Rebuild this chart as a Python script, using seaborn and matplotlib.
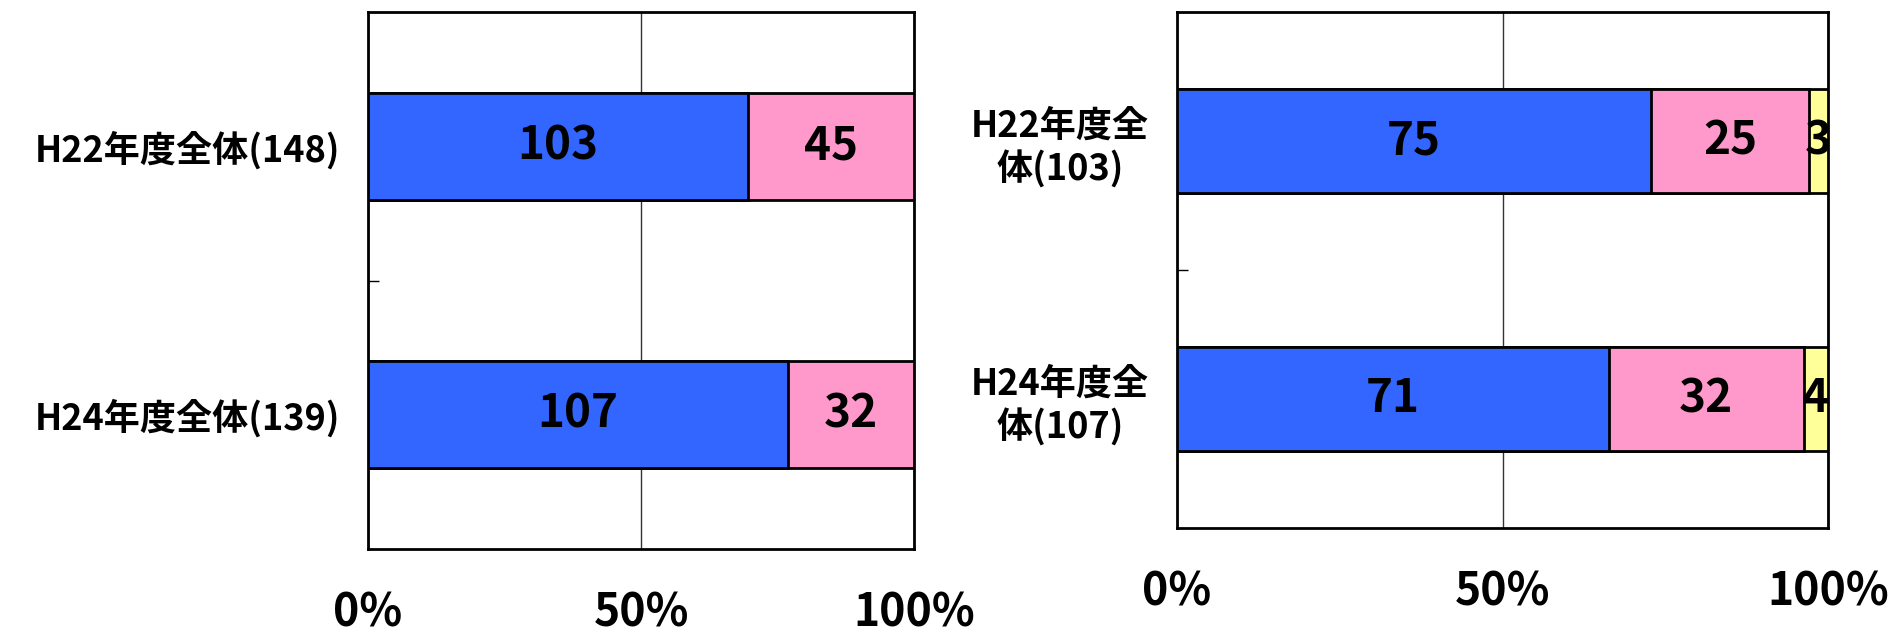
import numpy as np
import pandas as pd
import seaborn as sns
import matplotlib.pyplot as plt

sns.set_style('white')
plt.rcParams['font.family'] = ['Noto Sans CJK JP', 'DejaVu Sans']
plt.rcParams['font.weight'] = 'bold'
plt.rcParams['text.color'] = 'black'
plt.rcParams['xtick.color'] = 'black'
plt.rcParams['ytick.color'] = 'black'

# dados do grafico da esquerda
cat_esq = ['H22年度全体(148)', 'H24年度全体(139)']
azul_esq = [103, 107]
rosa_esq = [45, 32]

# dados do grafico da direita
cat_dir = ['H22年度全\n体(103)', 'H24年度全\n体(107)']
azul_dir = [75, 71]
rosa_dir = [25, 32]
amarelo_dir = [3, 4]

cores = ['#3366FF', '#FF99CC', '#FFFF99']
xticks = [0, 50, 100]
xlabels = ['0%', '50%', '100%']


def grafico(ax, cats, series, pad):
    df = pd.DataFrame({'cat': cats})
    total = np.sum(series, axis=0)
    pct = [np.array(s) / total * 100 for s in series]
    acum = np.cumsum(pct, axis=0)
    # desenha do ultimo acumulado para o primeiro (sobreposicao)
    for i in range(len(series) - 1, -1, -1):
        df['x'] = acum[i]
        sns.barplot(data=df, y='cat', x='x', orient='h', color=cores[i],
                    width=0.4, edgecolor='black', linewidth=2, saturation=1,
                    ax=ax, zorder=3)
    # rotulos das barras
    for i, s in enumerate(series):
        ini = acum[i] - pct[i]
        for j, v in enumerate(s):
            ax.text(ini[j] + pct[i][j] / 2, j, str(v), ha='center', va='center',
                    fontsize=33, zorder=5, clip_on=True)
    ax.set_xlim(0, 100)
    ax.set_ylim(1.5, -0.5)
    ax.set_xticks(xticks)
    ax.set_xticklabels(xlabels, fontsize=32)
    ax.tick_params(axis='x', length=0, pad=pad)
    ax.tick_params(axis='y', length=0, labelsize=26, pad=20)
    ax.set_yticks([0.5], minor=True)
    ax.tick_params(axis='y', which='minor', left=True, direction='in',
                   length=8, width=1)
    ax.xaxis.grid(True, color='#333333', linewidth=1)
    ax.set_axisbelow(True)
    ax.set_xlabel('')
    ax.set_ylabel('')
    for sp in ax.spines.values():
        sp.set_visible(True)
        sp.set_color('black')
        sp.set_linewidth(2)


fig = plt.figure(figsize=(19.03, 6.39), dpi=100)
ax1 = fig.add_axes([0.1934, 0.1408, 0.2869, 0.8404])
ax2 = fig.add_axes([0.6185, 0.1737, 0.3421, 0.8075])

grafico(ax1, cat_esq, [azul_esq, rosa_esq], 30)
grafico(ax2, cat_dir, [azul_dir, rosa_dir, amarelo_dir], 30)
for t in ax2.get_yticklabels():
    t.set_multialignment('center')

fig.savefig('out.png', dpi=100)
